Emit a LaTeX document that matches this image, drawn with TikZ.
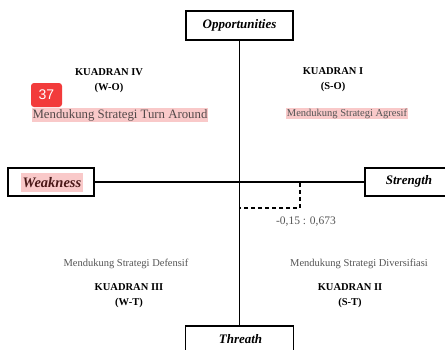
\documentclass[tikz,border=0pt]{standalone}
\usepackage{fontspec}
\setmainfont{Liberation Serif}
\setsansfont{Liberation Sans}
\definecolor{hl}{HTML}{F9C9C9}
\definecolor{graytxt}{HTML}{555555}
\definecolor{maroon}{HTML}{4A1818}
\definecolor{badge}{HTML}{F23B3B}
\begin{document}
\begin{tikzpicture}[x=1pt,y=-1pt,
  axisbox/.style={draw=black,line width=1.6pt,fill=white,inner sep=0pt,font=\bfseries\itshape\fontsize{13}{14}\selectfont},
  axisline/.style={line width=1.4pt},
  quad/.style={font=\bfseries\fontsize{10.5}{12}\selectfont,align=center,inner sep=0pt},
  strat/.style={text=graytxt,font=\fontsize{10.5}{12}\selectfont,inner sep=1pt},
  hlstrat/.style={strat,fill=hl}]
\useasboundingbox (0,0) rectangle (445,349);
\clip (0,0) rectangle (445,349);
\fill[white] (0,0) rectangle (445,349);
% axis boxes
\node[axisbox,minimum width=107pt,minimum height=29pt] (opp) at (239.5,25.5) {Opportunities};
\node[axisbox,minimum width=108pt,minimum height=40pt] (thr) at (239.5,346) {};
\node[font=\bfseries\itshape\fontsize{13}{14}\selectfont,inner sep=0pt] (thrtxt) at (240.5,339) {Threath};
\node[axisbox,minimum width=86pt,minimum height=28pt] (weak) at (51,182) {};
\node[fill=hl,text=maroon,font=\bfseries\itshape\fontsize{14.5}{15}\selectfont,inner xsep=1.5pt,minimum height=19pt] (weaktxt) at (52,182.5) {Weakness};
\node[axisbox,minimum width=100pt,minimum height=28pt] (str) at (415,182) {};
\node[font=\bfseries\itshape\fontsize{13}{14}\selectfont,inner sep=0pt] (strtxt) at (409,181) {Strength};
% axes
\draw[axisline] (opp.south) -- (thr.north);
\draw[axisline] (weak.east) -- (str.west);
% point
\coordinate (ax) at (300,183);
\coordinate (pt) at (300,208);
\coordinate (ay) at (239.5,208);
\draw[line width=1.3pt,dash pattern=on 4pt off 3pt] (ax) -- (pt) -- (ay);
\node[text=graytxt,font=\fontsize{11.5}{12}\selectfont] (ptlabel) at (306,222) {-0,15 : 0,673};
% quadrant labels
\node[quad] (q4) at (109,81) {KUADRAN IV\\[3pt](W-O)};
\node[quad] (q1) at (333,80) {KUADRAN I\\[3pt](S-O)};
\node[quad] (q3) at (129,295.5) {KUADRAN III\\[3pt](W-T)};
\node[quad] (q2) at (350,295.5) {KUADRAN II\\[3pt](S-T)};
% strategies
\node[hlstrat,font=\fontsize{12.8}{14}\selectfont,text=graytxt!80!maroon] (s4) at (120,115) {Mendukung Strategi Turn Around};
\node[hlstrat] (s1) at (347,113.5) {Mendukung Strategi Agresif};
\node[strat] (s3) at (126,264) {Mendukung Strategi Defensif};
\node[strat] (s2) at (359,264) {Mendukung Strategi Diversifiasi};
% badge
\node[fill=badge,rounded corners=3pt,text=white,font=\sffamily\fontsize{14}{14}\selectfont,minimum width=31pt,minimum height=24pt,inner sep=0pt] (badge) at (46.5,95) {37};
\end{tikzpicture}
\end{document}
